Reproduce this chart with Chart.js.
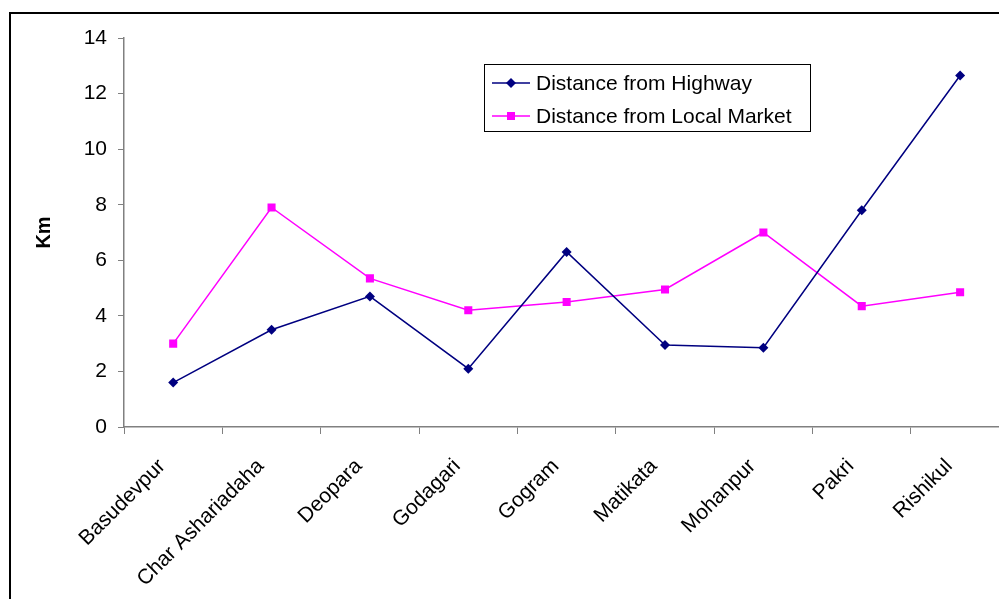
<!DOCTYPE html>
<html>
<head>
<meta charset="utf-8">
<script src="https://cdn.jsdelivr.net/npm/chart.js@4.4.1/dist/chart.umd.min.js"></script>
<style>
  html, body { margin: 0; padding: 0; background: #fff; overflow: hidden; }
  #wrap { position: relative; width: 999px; height: 599px; overflow: hidden; }
  #frame { position: absolute; left: 9px; top: 12px; width: 1100px; height: 700px; border: 2px solid #000; box-sizing: border-box; }
  #myChart { position: absolute; left: 0; top: 0; }
</style>
</head>
<body>
<div id="wrap">
  <div id="frame"></div>
  <canvas id="myChart" width="1015" height="599"></canvas>
</div>
<script>
// villages
const villages = ["Basudevpur", "Char Ashariadaha", "Deopara", "Godagari", "Gogram", "Matikata", "Mohanpur", "Pakri", "Rishikul"];

// distances in km
const fromHighway = [1.6, 3.5, 4.7, 2.1, 6.3, 2.95, 2.85, 7.8, 12.65];
const fromLocalMarket = [3.0, 7.9, 5.35, 4.2, 4.5, 4.95, 7.0, 4.35, 4.85];

const yTicks = [0, 2, 4, 6, 8, 10, 12, 14];

const navy = "#000080";
const pink = "#ff00ff";
const axisColor = "#808080";
const font = "'Liberation Sans', Arial, sans-serif";

// excel style legend, line + marker inside a box
const boxLegend = {
  id: "boxLegend",
  afterDraw(chart) {
    const ctx = chart.ctx;
    const x = 484.5, y = 64.5, w = 326, h = 67;
    ctx.save();
    ctx.strokeStyle = "#000";
    ctx.lineWidth = 1;
    ctx.strokeRect(x, y, w, h);
    ctx.font = "21px " + font;
    ctx.textBaseline = "middle";
    chart.data.datasets.forEach(function (ds, i) {
      const ly = 83 + i * 33;
      ctx.strokeStyle = ds.borderColor;
      ctx.lineWidth = 1.5;
      ctx.beginPath();
      ctx.moveTo(492, ly);
      ctx.lineTo(530, ly);
      ctx.stroke();
      ctx.fillStyle = ds.backgroundColor;
      ctx.beginPath();
      if (ds.pointStyle === "rectRot") {
        ctx.moveTo(511, ly - 5);
        ctx.lineTo(516, ly);
        ctx.lineTo(511, ly + 5);
        ctx.lineTo(506, ly);
        ctx.closePath();
      } else {
        ctx.rect(507, ly - 4, 8, 8);
      }
      ctx.fill();
      ctx.fillStyle = "#000";
      ctx.fillText(ds.label, 536, ly + 1);
    });
    ctx.restore();
  }
};

new Chart(document.getElementById("myChart"), {
  type: "line",
  data: {
    labels: villages,
    datasets: [{
      label: "Distance from Highway",
      data: fromHighway,
      borderColor: navy,
      backgroundColor: navy,
      borderWidth: 1.5,
      pointStyle: "rectRot",
      pointRadius: 5,
      pointBorderWidth: 0,
      tension: 0
    }, {
      label: "Distance from Local Market",
      data: fromLocalMarket,
      borderColor: pink,
      backgroundColor: pink,
      borderWidth: 1.5,
      pointStyle: "rect",
      pointRadius: 5.7,
      pointBorderWidth: 0,
      tension: 0
    }]
  },
  options: {
    responsive: false,
    animation: false,
    layout: { padding: { left: 32, top: 38, right: 0, bottom: 0 } },
    plugins: {
      legend: { display: false },
      tooltip: { enabled: false }
    },
    scales: {
      x: {
        offset: true,
        grid: {
          offset: true,
          drawOnChartArea: false,
          color: axisColor,
          tickLength: 7
        },
        border: { color: axisColor, width: 1.5 },
        ticks: {
          color: "#000",
          font: { family: font, size: 21 },
          maxRotation: 45,
          minRotation: 45,
          autoSkip: false,
          padding: 20,
          labelOffset: -11
        },
        afterFit(scale) { scale.height = 172; }
      },
      y: {
        min: 0,
        max: 14,
        afterBuildTicks(scale) { scale.ticks = yTicks.map(v => ({ value: v })); },
        grid: {
          drawOnChartArea: false,
          color: axisColor,
          tickLength: 6
        },
        border: { color: axisColor, width: 1.5 },
        ticks: {
          color: "#000",
          font: { family: font, size: 21 },
          padding: 11
        },
        title: {
          display: true,
          text: "Km",
          color: "#000",
          font: { family: font, size: 20, weight: "bold" },
          padding: 0
        },
        afterFit(scale) { scale.width = 92; }
      }
    }
  },
  plugins: [boxLegend]
});
</script>
</body>
</html>
